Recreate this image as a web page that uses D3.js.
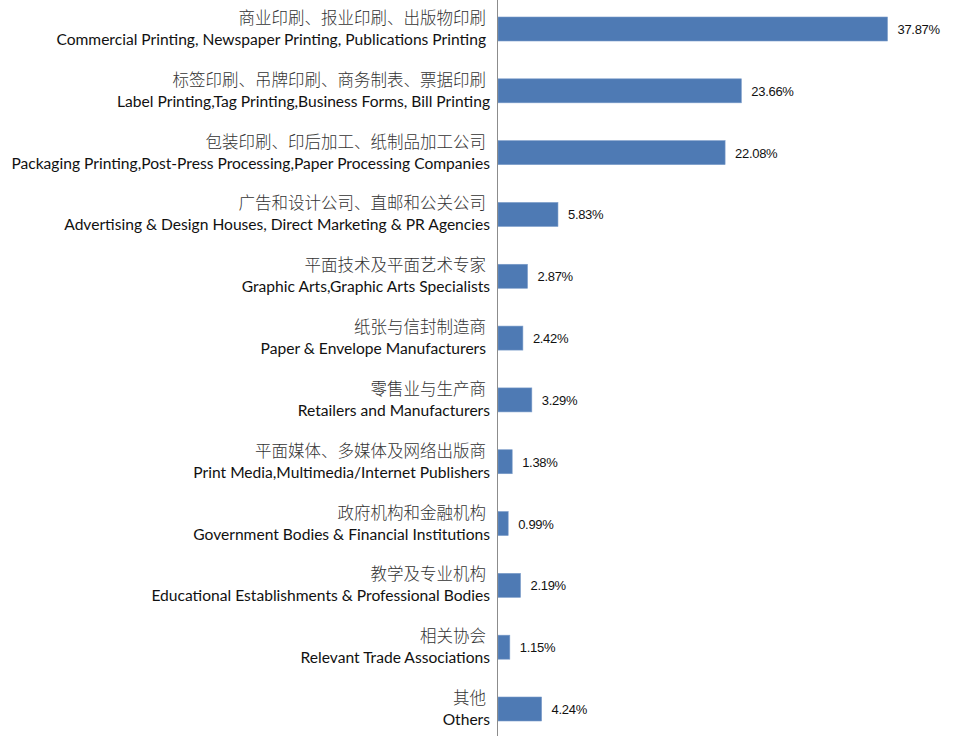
<!DOCTYPE html>
<html>
<head>
<meta charset="utf-8">
<script src="https://cdn.jsdelivr.net/npm/d3@7"></script>
<style>
  body { margin: 0; background: #fff; }
  text { white-space: pre; }
  .zh { font-family: "Noto Sans CJK SC", sans-serif; font-weight: 300; font-size: 16.5px; fill: #333; }
  .en { font-family: Lato, "Open Sans", sans-serif; font-size: 15.6px; fill: #111; }
  .val { font-family: "Liberation Sans Narrow", "Arial Narrow", sans-serif; font-size: 13px; letter-spacing: -0.3px; fill: #111; }
</style>
</head>
<body>
<div id="vis"></div>
<script>
// category labels, top to bottom
var labelsZh = ['商业印刷、报业印刷、出版物印刷', '标签印刷、吊牌印刷、商务制表、票据印刷',
    '包装印刷、印后加工、纸制品加工公司', '广告和设计公司、直邮和公关公司',
    '平面技术及平面艺术专家', '纸张与信封制造商', '零售业与生产商',
    '平面媒体、多媒体及网络出版商', '政府机构和金融机构', '教学及专业机构', '相关协会', '其他'];
var labelsEn = ['Commercial Printing, Newspaper Printing, Publications Printing ',
    'Label Printing,Tag Printing,Business Forms, Bill Printing',
    'Packaging Printing,Post-Press Processing,Paper Processing Companies',
    'Advertising & Design Houses, Direct Marketing & PR Agencies',
    'Graphic Arts,Graphic Arts Specialists', 'Paper & Envelope Manufacturers ',
    'Retailers and Manufacturers', 'Print Media,Multimedia/Internet Publishers',
    'Government Bodies & Financial Institutions', 'Educational Establishments & Professional Bodies',
    'Relevant Trade Associations', 'Others'];
var shares = [37.87, 23.66, 22.08, 5.83, 2.87, 2.42, 3.29, 1.38, 0.99, 2.19, 1.15, 4.24];

var w = 955,
    h = 736,
    barH = 24;

var x = d3.scaleLinear().domain([0, 40]).range([498, 909.4]);
var y = d3.scalePoint().domain(d3.range(shares.length)).range([29, 709]);

var svg = d3.select("#vis")
            .append("svg")
            .attr("width", w)
            .attr("height", h);

// bars
svg.selectAll(".bar")
   .data(shares)
   .enter()
   .append("rect")
   .attr("class", "bar")
   .attr("x", x(0))
   .attr("y", function(d, i) { return y(i) - barH / 2; })
   .attr("width", function(d) { return x(d) - x(0); })
   .attr("height", barH)
   .attr("fill", "#4e7ab4")
   .attr("stroke", "#7b9cc9")
   .attr("stroke-width", 0.6);

// value labels
svg.selectAll(".val")
   .data(shares)
   .enter()
   .append("text")
   .attr("class", "val")
   .attr("x", function(d) { return x(d) + 10; })
   .attr("y", function(d, i) { return y(i) + 5; })
   .text(function(d) { return d.toFixed(2) + "%"; });

// axis line
svg.append("line")
   .attr("x1", 497.5).attr("x2", 497.5)
   .attr("y1", 0).attr("y2", h)
   .attr("stroke", "#8c8c8c")
   .attr("stroke-width", 1);

// two-line category labels
svg.selectAll(".zh")
   .data(labelsZh)
   .enter()
   .append("text")
   .attr("class", "zh")
   .attr("x", 486)
   .attr("y", function(d, i) { return y(i) - 5; })
   .attr("text-anchor", "end")
   .text(String);

svg.selectAll(".en")
   .data(labelsEn)
   .enter()
   .append("text")
   .attr("class", "en")
   .attr("x", 490)
   .attr("y", function(d, i) { return y(i) + 16; })
   .attr("text-anchor", "end")
   .text(String);
</script>
</body>
</html>
